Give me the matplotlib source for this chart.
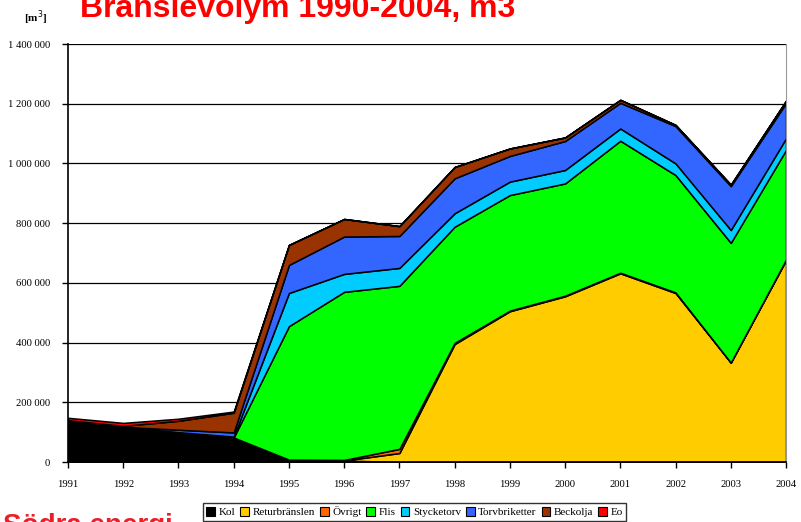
import matplotlib.pyplot as plt
from matplotlib.patches import Patch
from matplotlib.ticker import FuncFormatter

years = list(range(1991, 2005))
series_names = ['Kol', 'Returbränslen', 'Övrigt', 'Flis', 'Stycketorv',
                'Torvbriketter', 'Beckolja', 'Eo']
colors = ['#000000', '#ffcc00', '#ff6600', '#00ff00', '#00ccff',
          '#3366ff', '#993300', '#ff0000']

# values in m3
kol = [140000, 118000, 100000, 82000, 8000, 5000, 0, 0, 0, 0, 0, 0, 0, 0]
returbranslen = [0, 0, 0, 0, 0, 0, 30000, 395000, 505000, 555000, 632000, 566000, 333000, 676000]
ovrigt = [0, 0, 0, 0, 0, 2000, 14000, 4000, 2000, 2000, 2000, 2000, 0, 2000]
flis = [0, 0, 0, 0, 447000, 563000, 546000, 389000, 387000, 376000, 442000, 393000, 401000, 367000]
stycketorv = [0, 0, 0, 3000, 111000, 60000, 60000, 45000, 45000, 45000, 41000, 39000, 43000, 39000]
torvbriketter = [0, 0, 8000, 14000, 94000, 125000, 107000, 117000, 86000, 97000, 86000, 125000, 147000, 118000]
beckolja = [0, 3000, 30000, 66000, 67000, 59000, 33000, 38000, 25000, 12000, 10000, 4000, 5000, 8000]
eo = [8000, 10000, 7000, 4000, 0, 0, 0, 0, 0, 0, 0, 0, 0, 0]

fig = plt.figure(figsize=(8.01, 5.22), dpi=100)
ax = fig.add_axes([68 / 801, 1 - 462 / 522, (786 - 68) / 801, (462 - 44) / 522])

ax.stackplot(years, kol, returbranslen, ovrigt, flis, stycketorv, torvbriketter,
             beckolja, eo, colors=colors, edgecolor='black', linewidth=1.1)

ax.set_xlim(1991, 2004)
ax.set_ylim(0, 1400000)
ax.set_xticks(years)
ax.set_yticks(range(0, 1400001, 200000))
ax.yaxis.set_major_formatter(FuncFormatter(lambda v, p: f'{int(v):,}'.replace(',', ' ')))
ax.grid(axis='y', color='black', linewidth=0.9)
ax.set_axisbelow(True)
for lab in ax.get_xticklabels() + ax.get_yticklabels():
    lab.set_family('Liberation Serif')
    lab.set_fontsize(7.7)
ax.tick_params(direction='out', length=4, width=1, pad=9)
ax.spines['top'].set_visible(False)
ax.spines['right'].set_color('#999999')
ax.spines['left'].set_linewidth(1.2)
ax.spines['bottom'].set_linewidth(1.2)

fig.text(80 / 801, 1 - 17 / 522, 'Bränslevolym 1990-2004, m3', color='red',
         fontsize=23, fontweight='bold', family='Liberation Sans', va='baseline')
fig.text(24 / 801, 1 - 22 / 522, '[m$^3$]', fontsize=8, fontweight='bold',
         family='Liberation Serif', va='baseline')
fig.text(3 / 801, 1 - 533 / 522, 'Södra energi', color='#e8202a',
         fontsize=20, fontweight='bold', family='Liberation Sans', va='baseline')

handles = [Patch(facecolor=c, edgecolor='black', linewidth=0.8) for c in colors]
fig.legend(handles, series_names, loc='upper left', bbox_to_anchor=(203 / 801, 1 - 503 / 522),
           ncol=8, frameon=True, fancybox=False, edgecolor='black',
           prop={'family': 'Liberation Serif', 'size': 8},
           handlelength=0.8, handleheight=0.8, handletextpad=0.3, columnspacing=0.45,
           borderpad=0.3, borderaxespad=0)

fig.savefig('out.png', dpi=100)
